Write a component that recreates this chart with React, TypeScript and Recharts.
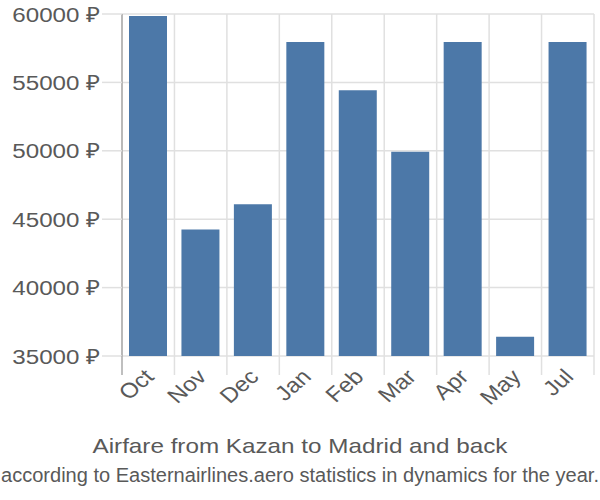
import { BarChart, Bar, XAxis, YAxis, CartesianGrid } from "recharts";

const MONTHS = ["Oct", "Nov", "Dec", "Jan", "Feb", "Mar", "Apr", "May", "Jul"];
const FARES = [59850, 44250, 46100, 57950, 54420, 49930, 57950, 36400, 57950];
const Y_TICKS = [35000, 40000, 45000, 50000, 55000, 60000];
const TITLE = "Airfare from Kazan to Madrid and back";
const SUBTITLE = "according to Easternairlines.aero statistics in dynamics for the year.";

const W = 600;
const H = 500;
const PLOT_LEFT = 122;
const PLOT_RIGHT = 594;
const PLOT_TOP = 14;
const PLOT_BOTTOM = 356;
const BAND = (PLOT_RIGHT - PLOT_LEFT) / MONTHS.length;

const GRID = "#e0e0e0";
const AXIS = "#aaaaaa";
const TEXT = "#595959";
const BAR = "#4c78a8";
const FONT = "'Liberation Sans', Arial, sans-serif";

const data = MONTHS.map((month, i) => ({ month, fare: FARES[i] }));

function FareTick({ x, y, payload }: any) {
	return (
		<text
			transform={`translate(${x},${y}) scale(1.15,1)`}
			textAnchor="end"
			dy="0.36em"
			fontSize={21}
			fill={TEXT}
			fontFamily={FONT}
		>
			{`${payload.value} ₽`}
		</text>
	);
}

function MonthTick({ x, payload, index }: any) {
	const half = BAND / 2;
	return (
		<g>
			<line
				x1={x - half}
				x2={x - half}
				y1={PLOT_BOTTOM}
				y2={PLOT_BOTTOM + 19}
				stroke={index === 0 ? AXIS : GRID}
				strokeWidth={1.5}
			/>
			{index === MONTHS.length - 1 && (
				<line x1={x + half} x2={x + half} y1={PLOT_BOTTOM} y2={PLOT_BOTTOM + 19} stroke={GRID} strokeWidth={1.5} />
			)}
			<text
				transform={`translate(${x + 7},${PLOT_BOTTOM + 22}) scale(1.15,1) rotate(-45)`}
				textAnchor="end"
				fontSize={21}
				fill={TEXT}
				fontFamily={FONT}
			>
				{payload.value}
			</text>
		</g>
	);
}

export default function App() {
	return (
		<div style={{ position: "absolute", left: 0, top: 0, width: W, height: H, fontFamily: FONT }}>
			<BarChart width={W} height={H} data={data} margin={{ top: PLOT_TOP, right: W - PLOT_RIGHT, left: 0, bottom: 0 }}>
				<CartesianGrid
					stroke={GRID}
					strokeWidth={1.5}
					verticalCoordinatesGenerator={({ offset }: any) =>
						Array.from({ length: MONTHS.length + 1 }, (_, i) => offset.left + (i * offset.width) / MONTHS.length)
					}
				/>
				<XAxis
					dataKey="month"
					height={H - PLOT_BOTTOM}
					interval={0}
					axisLine={false}
					tickLine={false}
					tick={<MonthTick />}
				/>
				<YAxis
					width={PLOT_LEFT}
					domain={[35000, 60000]}
					ticks={Y_TICKS}
					interval={0}
					tickSize={20}
					tickMargin={2}
					axisLine={{ stroke: AXIS, strokeWidth: 1.5 }}
					tickLine={{ stroke: GRID, strokeWidth: 1.5 }}
					tick={<FareTick />}
				/>
				<Bar dataKey="fare" fill={BAR} barSize={38} isAnimationActive={false} />
			</BarChart>
			<svg width={W} height={H} style={{ position: "absolute", left: 0, top: 0, pointerEvents: "none" }}>
				<text x={300} y={453} textAnchor="middle" fontSize={21} fill={TEXT} fontFamily={FONT} textLength={415} lengthAdjust="spacingAndGlyphs">
					{TITLE}
				</text>
				<text x={300} y={482} textAnchor="middle" fontSize={20} fill={TEXT} fontFamily={FONT} textLength={598} lengthAdjust="spacingAndGlyphs">
					{SUBTITLE}
				</text>
			</svg>
		</div>
	);
}
